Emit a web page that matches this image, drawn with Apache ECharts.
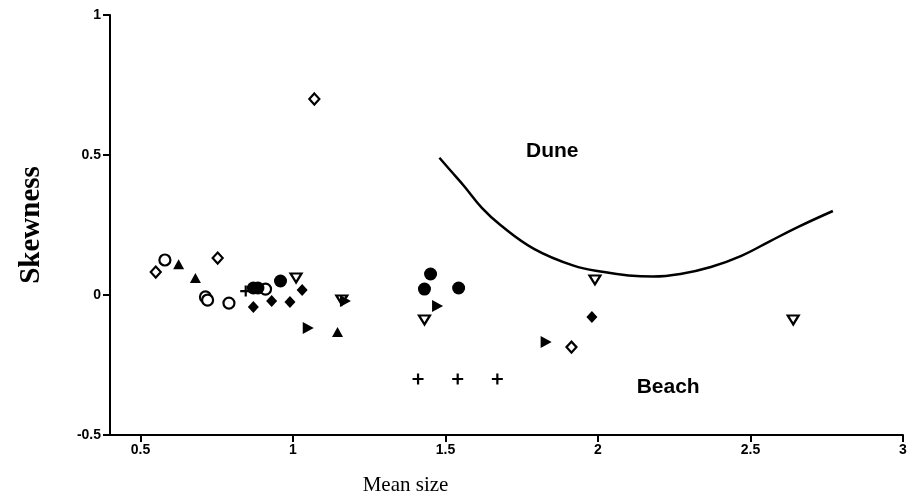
<!DOCTYPE html>
<html>
<head>
<meta charset="utf-8">
<script src="https://cdn.jsdelivr.net/npm/echarts@6/dist/echarts.min.js"></script>
<style>
  html, body { margin: 0; padding: 0; background: #fff; }
  #main { width: 917px; height: 501px; }
</style>
</head>
<body>
<div id="main"></div>
<script>
// tick labels
var xTicks = [0.5, 1, 1.5, 2, 2.5, 3];

// samples, grouped by marker [mean size, skewness]
var openDiamond = [[1.07, 0.70], [0.55, 0.082], [0.753, 0.132], [1.913, -0.186]];
var openCircle = [[0.58, 0.125], [0.713, -0.007], [0.72, -0.018], [0.79, -0.029], [0.91, 0.021]];
var filledTriangle = [[0.625, 0.11], [0.68, 0.061], [1.146, -0.132]];
var plusSign = [[0.845, 0.014], [1.41, -0.30], [1.54, -0.30], [1.67, -0.30]];
var filledCircle = [[0.87, 0.025], [0.885, 0.025], [0.959, 0.05], [1.451, 0.075], [1.431, 0.021], [1.543, 0.025]];
var filledDiamond = [[0.87, -0.043], [0.93, -0.021], [0.99, -0.025], [1.03, 0.018], [1.98, -0.079]];
var rightTriangle = [[1.05, -0.118], [1.172, -0.021], [1.474, -0.039], [1.83, -0.168]];
var downTriangle = [[1.01, 0.061], [1.16, -0.018], [1.431, -0.089], [1.99, 0.054], [2.64, -0.089]];

// dune / beach boundary
var boundary = [[1.48, 0.49], [1.52, 0.44], [1.56, 0.39], [1.62, 0.31], [1.68, 0.25], [1.79, 0.165],
                [1.92, 0.105], [2.02, 0.082], [2.1, 0.07], [2.18, 0.066], [2.27, 0.075], [2.37, 0.10],
                [2.47, 0.14], [2.56, 0.19], [2.66, 0.245], [2.77, 0.30]];

// region labels
var regionLabels = [{ name: 'Dune', value: [1.85, 0.515] }, { name: 'Beach', value: [2.23, -0.33] }];

var tickFont = {
    color: '#000',
    fontFamily: 'Liberation Sans Narrow, Liberation Sans, Arial',
    fontWeight: 'bold',
    fontSize: 14
};

var black = { color: '#000', opacity: 1 };

function openStyle() {
    return { color: '#fff', borderColor: '#000', borderWidth: 2.2, opacity: 1 };
}

var option = {
    animation: false,
    backgroundColor: '#fff',
    grid: { left: 110, right: 14, top: 15, bottom: 64 },
    xAxis: {
        type: 'value',
        min: 0.4,
        max: 3,
        name: 'Mean size',
        nameLocation: 'middle',
        nameGap: 40,
        nameTextStyle: {
            color: '#000',
            fontFamily: 'Liberation Serif, Times New Roman, serif',
            fontSize: 21,
            padding: [0, 202, 0, 0]
        },
        axisLine: { onZero: false, lineStyle: { color: '#000', width: 2 } },
        axisTick: { length: 7, customValues: xTicks, lineStyle: { color: '#000', width: 2 } },
        axisLabel: Object.assign({ customValues: xTicks, margin: 8 }, tickFont),
        splitLine: { show: false }
    },
    yAxis: {
        type: 'value',
        min: -0.5,
        max: 1,
        interval: 0.5,
        name: 'Skewness',
        nameLocation: 'middle',
        nameGap: 64,
        nameTextStyle: {
            color: '#000',
            fontFamily: 'Liberation Serif, Times New Roman, serif',
            fontWeight: 'bold',
            fontSize: 29
        },
        axisLine: { onZero: false, lineStyle: { color: '#000', width: 2 } },
        axisTick: { length: 7, lineStyle: { color: '#000', width: 2 } },
        axisLabel: Object.assign({ margin: 9 }, tickFont),
        splitLine: { show: false }
    },
    series: [
        {
            type: 'line',
            data: boundary,
            smooth: 0.4,
            showSymbol: false,
            lineStyle: { color: '#000', width: 2.5 },
            z: 1
        },
        { type: 'scatter', data: openDiamond, symbol: 'diamond', symbolSize: [10, 11], itemStyle: openStyle() },
        { type: 'scatter', data: openCircle, symbol: 'circle', symbolSize: 11, itemStyle: openStyle() },
        { type: 'scatter', data: filledTriangle, symbol: 'triangle', symbolSize: [11, 10], itemStyle: black },
        { type: 'scatter', data: plusSign, symbol: 'path://M-1,-5h2v4h4v2h-4v4h-2v-4h-4v-2h4z', symbolSize: 11, itemStyle: black },
        { type: 'scatter', data: filledCircle, symbol: 'circle', symbolSize: 13, itemStyle: black },
        { type: 'scatter', data: filledDiamond, symbol: 'diamond', symbolSize: [11, 12], itemStyle: black },
        { type: 'scatter', data: downTriangle, symbol: 'triangle', symbolRotate: 180, symbolSize: [11, 9], itemStyle: openStyle() },
        { type: 'scatter', data: rightTriangle, symbol: 'triangle', symbolRotate: -90, symbolSize: [12, 11], itemStyle: black },
        {
            type: 'scatter',
            data: regionLabels,
            symbolSize: 0,
            itemStyle: black,
            label: {
                show: true,
                position: 'inside',
                formatter: '{b}',
                color: '#000',
                fontFamily: 'Liberation Sans, Arial',
                fontWeight: 'bold',
                fontSize: 21
            }
        }
    ]
};

var myChart = echarts.init(document.getElementById('main'));
myChart.setOption(option);
</script>
</body>
</html>
